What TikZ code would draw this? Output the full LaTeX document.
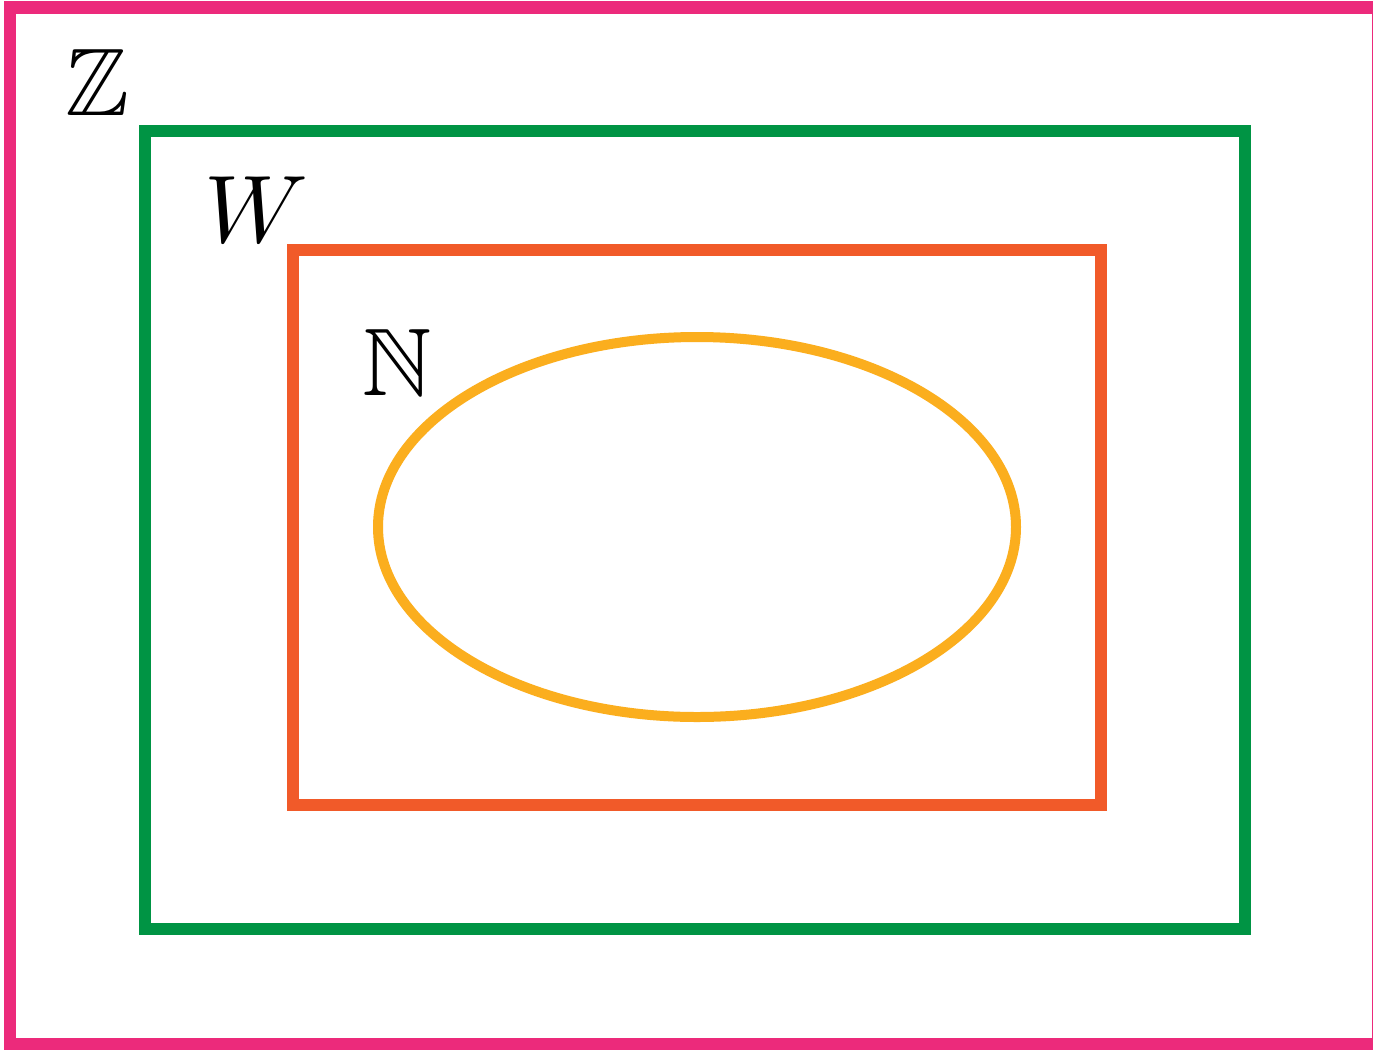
\documentclass[tikz,border=0pt]{standalone}
\usepackage{graphicx}
\usepackage{amssymb}
\definecolor{zpink}{RGB}{236,42,123}
\definecolor{wgreen}{RGB}{0,148,68}
\definecolor{norange}{RGB}{241,90,41}
\definecolor{eyellow}{RGB}{251,174,30}
\newcommand{\biglbl}[1]{\scalebox{9.6}{$#1$}}
\begin{document}
\begin{tikzpicture}[x=1pt,y=-1pt,
  setbox/.style={line width=12.5pt},
  lbl/.style={inner sep=0pt}]
\useasboundingbox (0,0) rectangle (1373,1050);
\clip (0,0) rectangle (1373,1050);
\fill[white] (0,0) rectangle (1373,1050);
\draw[setbox,zpink] (10,7.5) rectangle (1378,1044);
\draw[setbox,wgreen] (145,131) rectangle (1245,929);
\draw[setbox,norange] (293,250) rectangle (1101,805);
\draw[line width=10pt,eyellow] (697,527) ellipse [x radius=319,y radius=190];
\node[lbl] (Z) at (97,82) {\biglbl{\mathbb{Z}}};
\node[lbl] (W) at (256,210) {\biglbl{W}};
\node[lbl] (N) at (397,362) {\biglbl{\mathbb{N}}};
\end{tikzpicture}
\end{document}
